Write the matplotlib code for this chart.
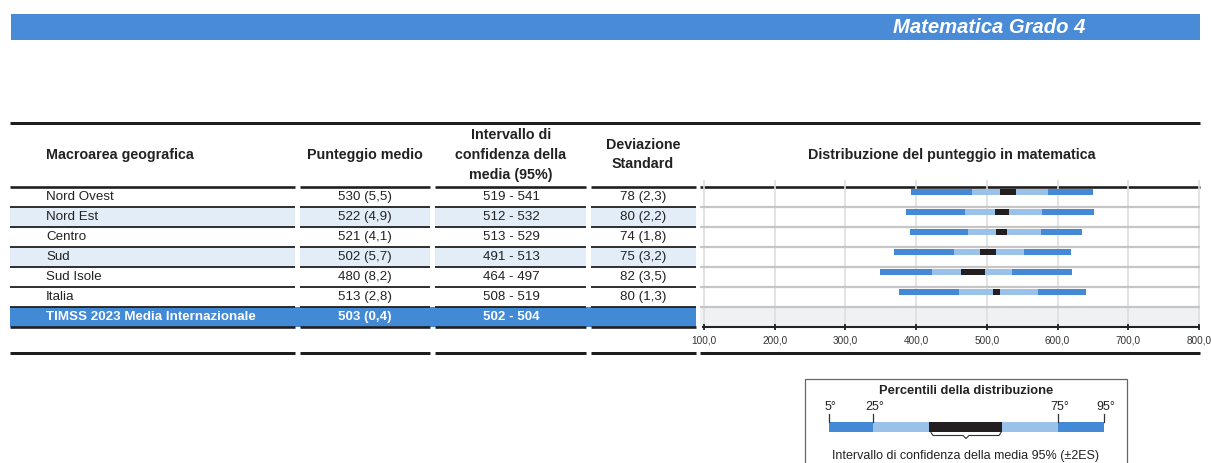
import matplotlib
matplotlib.use("Agg")
import matplotlib.pyplot as plt
from matplotlib.patches import Rectangle

plt.rcParams['font.family'] = ['Liberation Sans', 'DejaVu Sans']

# ---------------- data ----------------
regions = ["Nord Ovest", "Nord Est", "Centro", "Sud", "Sud Isole", "Italia"]
intl_label = "TIMSS 2023 Media Internazionale"
mean_scores = [530, 522, 521, 502, 480, 513]
mean_se = ["5,5", "4,9", "4,1", "5,7", "8,2", "2,8"]
ci_low = [519, 512, 513, 491, 464, 508]
ci_high = [541, 532, 529, 513, 497, 519]
sd_values = [78, 80, 74, 75, 82, 80]
sd_se = ["2,3", "2,2", "1,8", "3,2", "3,5", "1,3"]
intl_mean = 503
intl_se = "0,4"
intl_ci_low = 502
intl_ci_high = 504
p5 = [393, 386, 391, 368, 349, 376]
p25 = [479, 469, 473, 454, 422, 461]
p75 = [587, 578, 577, 553, 536, 572]
p95 = [650, 651, 635, 619, 620, 640]
x_ticks = [100, 200, 300, 400, 500, 600, 700, 800]

# ---------------- style ----------------
DARK = '#4489D5'
LIGHT = '#99C1EA'
BLACK = '#231F20'
ROWSHADE = '#E2EDF8'
TIMSSBLUE = '#438AD6'
GRAYROW = '#F0F1F3'
TXT = '#222222'

W, H = 1211, 463
fig = plt.figure(figsize=(W / 100, H / 100), dpi=100)
ax0 = fig.add_axes([0, 0, 1, 1])
ax0.set_xlim(0, W)
ax0.set_ylim(H, 0)
ax0.axis('off')


def hline(x0, x1, y, px, color='#1e1e1e', ax=ax0, z=3):
    ax.plot([x0, x1], [y, y], color=color, lw=px * 0.72,
            solid_capstyle='butt', zorder=z)


# banner
ax0.add_patch(Rectangle((11, 14), 1189, 25.5, color='#4A8BD7', lw=0, zorder=1))
ax0.text(1085, 27.5, "Matematica Grado 4", color='white', fontsize=14.6,
         fontweight='bold', fontstyle='italic', ha='right', va='center', zorder=2)

# table geometry
cols = [(10, 295), (300, 430), (435, 586), (591, 696)]
chart_x = (700, 1200)
top_y = 122.7
hdr_y = 186.7
row_h = 20.0
bottom_y = 352.5

hline(10, 1200, top_y, 3)

# headers
hfs = 10.3
ax0.text(46, 155, "Macroarea geografica", fontsize=hfs, fontweight='bold',
         color=TXT, ha='left', va='center')
ax0.text(365, 155, "Punteggio medio", fontsize=hfs, fontweight='bold',
         color=TXT, ha='center', va='center')
for yy, s in zip([135, 155, 174.5], ["Intervallo di", "confidenza della", "media (95%)"]):
    ax0.text(511, yy, s, fontsize=hfs, fontweight='bold', color=TXT,
             ha='center', va='center')
for yy, s in zip([145, 163.5], ["Deviazione", "Standard"]):
    ax0.text(643, yy, s, fontsize=hfs, fontweight='bold', color=TXT,
             ha='center', va='center')
ax0.text(952, 155, "Distribuzione del punteggio in matematica", fontsize=hfs,
         fontweight='bold', color=TXT, ha='center', va='center')

# row backgrounds
n = len(regions)
for i in range(n):
    if i in (1, 3):
        t = hdr_y + i * row_h
        for (a, b) in cols:
            ax0.add_patch(Rectangle((a, t), b - a, row_h, color=ROWSHADE, lw=0, zorder=1))
t_int = hdr_y + n * row_h
ax0.add_patch(Rectangle((10, t_int), 686, row_h, color=TIMSSBLUE, lw=0, zorder=1))

# row texts
rfs = 9.6
for i in range(n):
    yc = hdr_y + i * row_h + row_h / 2 + 0.5
    ax0.text(46, yc, regions[i], fontsize=rfs, color=TXT, ha='left', va='center', zorder=4)
    ax0.text(365, yc, f"{mean_scores[i]} ({mean_se[i]})", fontsize=rfs, color=TXT,
             ha='center', va='center', zorder=4)
    ax0.text(511, yc, f"{ci_low[i]} - {ci_high[i]}", fontsize=rfs, color=TXT,
             ha='center', va='center', zorder=4)
    ax0.text(643, yc, f"{sd_values[i]} ({sd_se[i]})", fontsize=rfs, color=TXT,
             ha='center', va='center', zorder=4)
yc = t_int + row_h / 2 + 0.5
ax0.text(46, yc, intl_label, fontsize=rfs, color='white', fontweight='bold',
         ha='left', va='center', zorder=4)
ax0.text(365, yc, f"{intl_mean} ({intl_se})", fontsize=rfs, color='white',
         fontweight='bold', ha='center', va='center', zorder=4)
ax0.text(511, yc, f"{intl_ci_low} - {intl_ci_high}", fontsize=rfs, color='white',
         fontweight='bold', ha='center', va='center', zorder=4)

# table separators
for k in range(n + 2):
    y = hdr_y + k * row_h
    px = 2.6 if k in (0, n + 1) else 1.8
    for (a, b) in cols:
        hline(a, b, y, px)
for (a, b) in cols:
    hline(a, b, bottom_y, 3)
hline(chart_x[0], chart_x[1], bottom_y, 3)
hline(chart_x[0], chart_x[1], hdr_y, 2.6, z=6)

# ---------------- chart axes ----------------
kpx = 495 / 700.0  # pixels per score unit
left_px, right_px = 700, 1200
ax = fig.add_axes([left_px / W, (H - (hdr_y + 7 * row_h)) / H,
                   (right_px - left_px) / W, 7 * row_h / H])
ax.set_xlim(100 - 4 / kpx, 800 + 1 / kpx)
ax.set_ylim(7, 0)
ax.axis('off')
ax.patch.set_alpha(0)
ax.set_zorder(2)

ax.axhspan(n, n + 1, color=GRAYROW, lw=0, zorder=0)
ax.vlines(x_ticks, -0.33, 7, color='#DEDEDE', lw=1.2, zorder=1, clip_on=False)
for k in range(1, n + 1):
    ax.axhline(k, color='#C6C6C6', lw=1.6, zorder=2)

bar_h = 0.3
ys = [i + 0.24 for i in range(n)]
ax.barh(ys, [b - a for a, b in zip(p5, p25)], left=p5, height=bar_h, color=DARK, lw=0, zorder=3)
ax.barh(ys, [b - a for a, b in zip(p25, p75)], left=p25, height=bar_h, color=LIGHT, lw=0, zorder=3)
ax.barh(ys, [b - a for a, b in zip(p75, p95)], left=p75, height=bar_h, color=DARK, lw=0, zorder=3)
ax.barh(ys, [b - a for a, b in zip(ci_low, ci_high)], left=ci_low, height=bar_h,
        color=BLACK, lw=0, zorder=4)

# x axis
x0, x1 = ax.get_xlim()
ax.plot([x0 + 2 / kpx, x1], [7, 7], color='#222222', lw=1.5, zorder=5,
        clip_on=False, solid_capstyle='butt')
ax.vlines(x_ticks, 7 - 3 / row_h, 7 + 3.5 / row_h, color='#222222', lw=1.3,
          zorder=5, clip_on=False)
for xt in x_ticks:
    ax.text(xt, 7 + 13.5 / row_h, f"{xt:.1f}".replace('.', ','), fontsize=7.2,
            color='#333333', ha='center', va='center', clip_on=False)

# ---------------- legend (schematic key) ----------------
ax0.add_patch(Rectangle((804.5, 378.5), 322, 120, fill=False, edgecolor='#666666',
                        lw=0.9, zorder=3))
ax0.text(966, 390.5, "Percentili della distribuzione", fontsize=9.3, fontweight='bold',
         color=TXT, ha='center', va='center')
key_pos = [829, 873, 929, 1002, 1058, 1104]
key_cols = [DARK, LIGHT, BLACK, LIGHT, DARK]
for a, b, c in zip(key_pos[:-1], key_pos[1:], key_cols):
    ax0.add_patch(Rectangle((a, 421.7), b - a, 10, color=c, lw=0, zorder=3))
for xk, lab in zip([829, 873, 1058, 1104], ["5°", "25°", "75°", "95°"]):
    ax0.plot([xk, xk], [414, 422], color='#333333', lw=0.9, zorder=4)
    ax0.text(xk + 1.5, 407.5, lab, fontsize=9, color=TXT, ha='center', va='center')
bx = [931, 933, 963, 966, 969, 999, 1001]
by = [432.5, 435.5, 435.5, 438.5, 435.5, 435.5, 432.5]
ax0.plot(bx, by, color='#333333', lw=0.8, zorder=4)
ax0.text(966, 455.5, "Intervallo di confidenza della media 95% (±2ES)", fontsize=9,
         color=TXT, ha='center', va='center')

fig.savefig("out.png", dpi=100)
